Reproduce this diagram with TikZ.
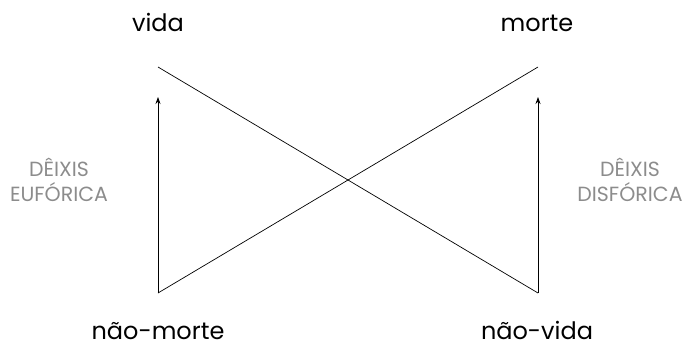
\documentclass[tikz,border=0pt]{standalone}
\usepackage{fontspec}
\setmainfont{Poppins}
\usepackage{tikz}
\usetikzlibrary{arrows.meta}
\definecolor{deixisgray}{gray}{0.55}
\tikzset{
  term/.style={anchor=base, font=\fontsize{24}{28}\selectfont, inner sep=0pt},
  deixis/.style={align=center, text=deixisgray, inner sep=0pt,
    font=\fontsize{20.5}{25}\selectfont},
  axis/.style={draw=black, line width=0.7pt},
  flow/.style={-{Stealth[length=7pt,width=5pt]}, draw=black, line width=0.7pt},
}

\begin{document}
\begin{tikzpicture}[x=1pt,y=-1pt]
\useasboundingbox (0,0) rectangle (682,349);
% ---- corners of the square ----
\coordinate (tl) at (158,67);
\coordinate (tr) at (538,67);
\coordinate (bl) at (158,293);
\coordinate (br) at (538,293);
\coordinate (ltip) at (158,97);
\coordinate (rtip) at (538,97);
% ---- terms ----
\node[term] (vida) at (158,31) {vida};
\node[term] (morte) at (537,31) {morte};
\node[term] (naomorte) at (158,339) {não-morte};
\node[term] (naovida) at (537,339) {não-vida};
% ---- deixis ----
\node[deixis] (euf) at (59,180) {DÊIXIS\\EUFÓRICA};
\node[deixis] (disf) at (630,180) {DÊIXIS\\DISFÓRICA};
% ---- contraries and implications ----
\draw[axis] (tl)--(br);
\draw[axis] (bl)--(tr);
\draw[flow] (bl)--(ltip);
\draw[flow] (br)--(rtip);
\end{tikzpicture}
\end{document}
